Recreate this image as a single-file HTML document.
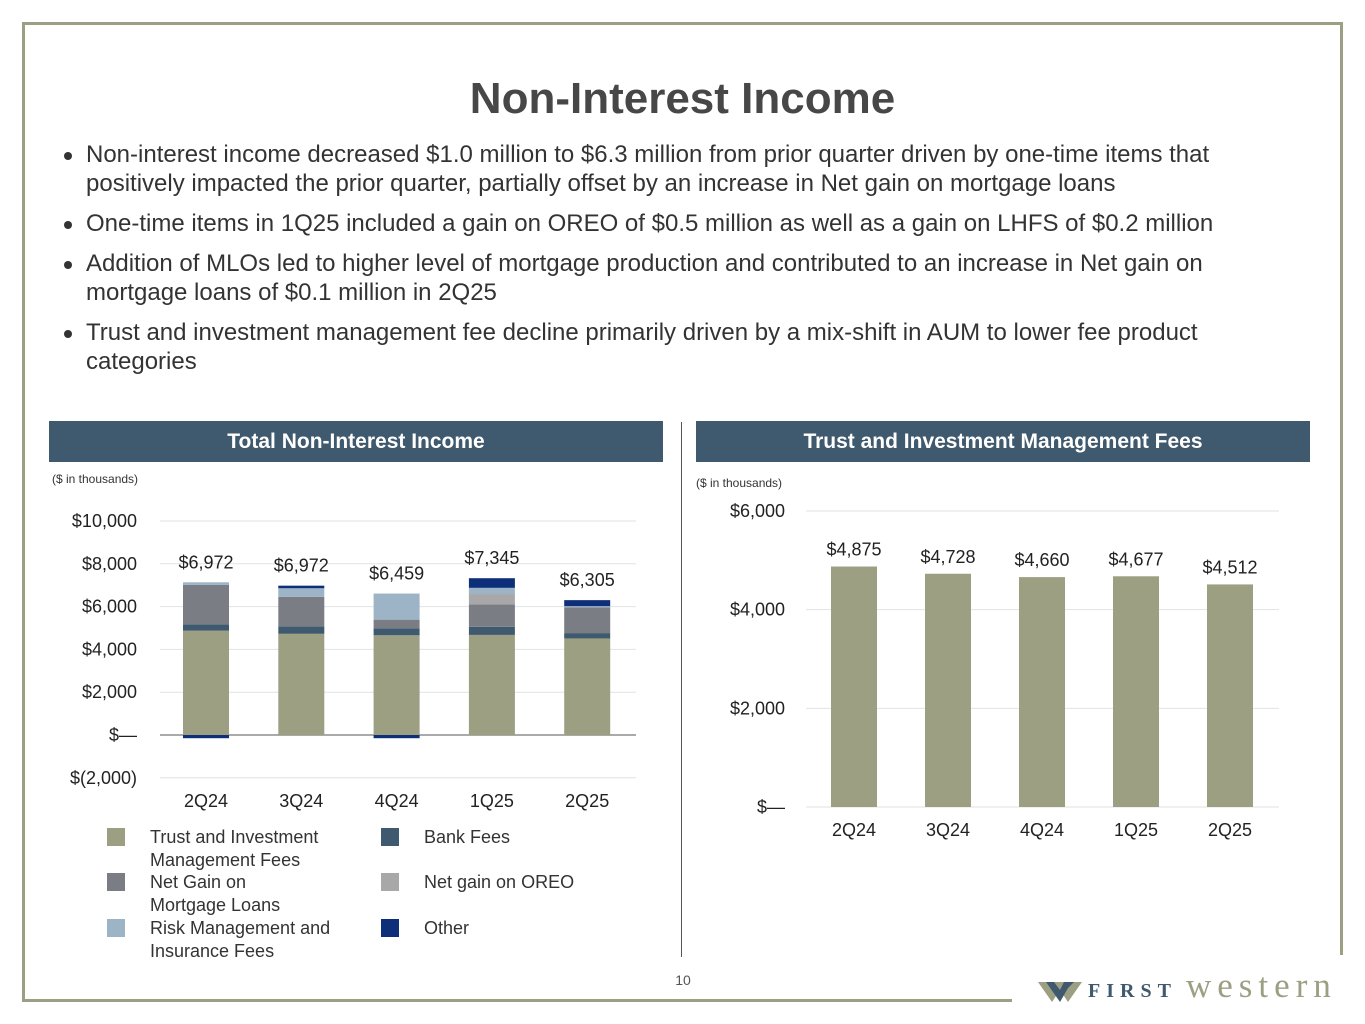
<!DOCTYPE html>
<html><head><meta charset="utf-8"><style>
body{margin:0;width:1365px;height:1024px;background:#fff;position:relative;font-family:"Liberation Sans",sans-serif;overflow:hidden}
.abs{position:absolute}
h1{position:absolute;left:0;width:1365px;top:74px;margin:0;text-align:center;font-size:44px;font-weight:bold;color:#474747}
ul{position:absolute;left:60px;top:140px;width:1185px;margin:0;padding:0;list-style:none;font-size:24px;color:#333;line-height:29px}
li{position:relative;padding-left:26px;margin-bottom:11px}
li:before{content:"";position:absolute;left:4px;top:12px;width:8px;height:8px;border-radius:50%;background:#333}
.hdr{position:absolute;top:421px;height:41px;background:#3f5a6e;color:#fff;font-weight:bold;font-size:21px;text-align:center;line-height:41px}
.note{position:absolute;font-size:12px;color:#333}
</style></head><body>
<div class="abs" style="left:22px;top:22px;width:1321px;height:3px;background:#9c9f82"></div>
<div class="abs" style="left:22px;top:22px;width:3px;height:980px;background:#9c9f82"></div>
<div class="abs" style="left:1340px;top:22px;width:3px;height:933px;background:#9c9f82"></div>
<div class="abs" style="left:22px;top:999px;width:990px;height:3px;background:#9c9f82"></div>
<h1>Non-Interest Income</h1>
<ul>
<li>Non-interest income decreased $1.0 million to $6.3 million from prior quarter driven by one-time items that positively impacted the prior quarter, partially offset by an increase in Net gain on mortgage loans</li>
<li>One-time items in 1Q25 included a gain on OREO of $0.5 million as well as a gain on LHFS of $0.2 million</li>
<li>Addition of MLOs led to higher level of mortgage production and contributed to an increase in Net gain on mortgage loans of $0.1 million in 2Q25</li>
<li>Trust and investment management fee decline primarily driven by a mix-shift in AUM to lower fee product categories</li>
</ul>
<div class="hdr" style="left:49px;width:614px">Total Non-Interest Income</div>
<div class="hdr" style="left:696px;width:614px">Trust and Investment Management Fees</div>
<div class="note" style="left:52px;top:472px">($ in thousands)</div>
<div class="note" style="left:696px;top:476px">($ in thousands)</div>
<div class="abs" style="left:681px;top:422px;width:1px;height:535px;background:#555"></div>
<div class="abs" style="left:664px;top:972px;width:38px;text-align:center;font-size:14px;color:#555">10</div>
<div class="abs" style="left:1038px;top:976px;height:30px;width:305px">
<svg width="45" height="26" style="position:absolute;left:0;top:4px"><polygon points="0,2 44,2 30,22 22,10 14,22" fill="#9c9f82"/><polygon points="8,2 22,22 30,8 36,2 26,2 22,10 16,2" fill="#3f5a6e"/></svg>
<span style="position:absolute;left:50px;top:4px;font-family:'Liberation Serif',serif;font-size:20px;font-weight:bold;letter-spacing:6px;color:#3f5a6e">FIRST</span><span style="position:absolute;left:148px;top:-10px;font-family:'Liberation Serif',serif;font-size:35px;letter-spacing:6px;color:#9c9f82">western</span></div>
<svg id="left" class="abs" style="left:0;top:0" width="1365" height="1024"></svg>
<script>
const cats=["2Q24","3Q24","4Q24","1Q25","2Q25"];
const trust=[4875,4728,4660,4677,4512];
const bank=[300,350,330,380,250];
const netGain=[1840,1380,400,1050,1200];
const oreo=[0,0,0,480,0];
const risk=[120,400,1220,290,60];
const other=[-150,120,-150,450,280];
const totals=["$6,972","$6,972","$6,459","$7,345","$6,305"];
const leftTicks=[-2000,0,2000,4000,6000,8000,10000];
const leftTickLabels=["$(2,000)","$—","$2,000","$4,000","$6,000","$8,000","$10,000"];
const rightTicks=[0,2000,4000,6000];
const rightTickLabels=["$—","$2,000","$4,000","$6,000"];
const trustLabels=["$4,875","$4,728","$4,660","$4,677","$4,512"];
const NS="http://www.w3.org/2000/svg";
const svg=document.getElementById('left');
function mk(t,a,txt){const e=document.createElementNS(NS,t);for(const k in a)e.setAttribute(k,a[k]);if(txt!=null)e.textContent=txt;svg.appendChild(e);return e;}
const ly=v=>735-v*0.0214;const lx=i=>206+i*95.3;
leftTicks.forEach((t,i)=>{const g=mk('line',{x1:160,x2:636,y1:ly(t),y2:ly(t),stroke:t===0?'#555':'#e2e2e2','stroke-width':1});

const tx=mk('text',{x:137,y:ly(t)+6,'text-anchor':'end','font-size':18,fill:'#222'},leftTickLabels[i]);
});
const series=[[trust,'#9c9f82','trust-seg'],[bank,'#3f5a6e','bank-seg'],[netGain,'#7a7d84','netgain-seg'],[oreo,'#a8a8a8','oreo-seg'],[risk,'#9db3c6','risk-seg'],[other,'#0d2f7a','other-seg']];
cats.forEach((c,i)=>{let base=0;
series.forEach(([arr,col,nm])=>{const v=arr[i];if(!v)return;
let y0,y1;if(v<0){y0=ly(0);y1=ly(v);}else{y0=ly(base+v);y1=ly(base);base+=v;}
const r=mk('rect',{x:lx(i)-23,y:y0,width:46,height:Math.max(y1-y0,0),fill:col});
});
const t=mk('text',{x:lx(i),y:ly(base)-14,'text-anchor':'middle','font-size':18,fill:'#222'},totals[i]);

const xl=mk('text',{x:lx(i),y:807,'text-anchor':'middle','font-size':18,fill:'#222'},c);
});
const ry=v=>807-v*0.04933;const rx=i=>854+i*94;
rightTicks.forEach((t,i)=>{const g=mk('line',{x1:806,x2:1279,y1:ry(t),y2:ry(t),stroke:'#e2e2e2','stroke-width':1});

const tx=mk('text',{x:785,y:ry(t)+6,'text-anchor':'end','font-size':18,fill:'#222'},rightTickLabels[i]);
});
cats.forEach((c,i)=>{const r=mk('rect',{x:rx(i)-23,y:ry(trust[i]),width:46,height:ry(0)-ry(trust[i]),fill:'#9c9f82'});

const t=mk('text',{x:rx(i),y:ry(trust[i])-11,'text-anchor':'middle','font-size':18,fill:'#222'},trustLabels[i]);

const xl=mk('text',{x:rx(i),y:836,'text-anchor':'middle','font-size':18,fill:'#222'},c);
});
const leg=[[107,828,'#9c9f82',['Trust and Investment','Management Fees']],[381,828,'#3f5a6e',['Bank Fees']],[107,873,'#7a7d84',['Net Gain on','Mortgage Loans']],[381,873,'#a8a8a8',['Net gain on OREO']],[107,919,'#9db3c6',['Risk Management and','Insurance Fees']],[381,919,'#0d2f7a',['Other']]];
leg.forEach(([x,y,col,lines])=>{const r=mk('rect',{x:x,y:y,width:18,height:18,fill:col});

lines.forEach((l,k)=>{const t=mk('text',{x:x+43,y:y+15+k*23,'font-size':18,fill:'#333'},l);
});});
</script>
</body></html>
